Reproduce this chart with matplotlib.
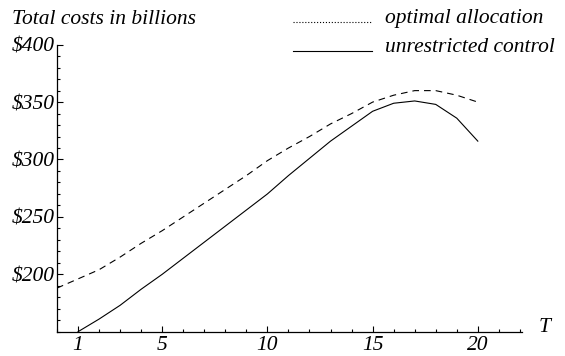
"""Total costs vs T: optimal allocation against unrestricted control."""

import matplotlib
matplotlib.use('Agg')

import matplotlib.pyplot as plt
from matplotlib.lines import Line2D
from matplotlib.ticker import FixedLocator, MultipleLocator

# data (costs in billions of dollars)
t_opt = list(range(0, 21))
cost_opt = [188, 196, 204, 215, 227, 238, 250, 262, 274, 286, 299,
            310, 320, 331, 340, 350, 356, 360, 360, 356, 350]

t_unr = list(range(1, 21))
cost_unr = [150, 161, 173, 187, 200, 214, 228, 242, 256, 270,
            286, 301, 316, 329, 342, 349, 351, 348, 336, 316]

x_ticks = [1, 5, 10, 15, 20]
y_ticks = [200, 250, 300, 350, 400]
y_labels = ['$%d' % v for v in y_ticks]

legend_labels = ['optimal allocation', 'unrestricted control']
title = 'Total costs in billions'

FONT = 'Liberation Serif'
FS = 15.5
W, H = 565, 356

fig = plt.figure(figsize=(W / 100, H / 100), dpi=100)
ax = fig.add_axes([57 / W, (H - 331.7) / H, 465 / W, (331.7 - 44.7) / H])

lw = 0.8
ax.plot(t_opt, cost_opt, color='black', lw=lw, dashes=(6, 4.5))
ax.plot(t_unr, cost_unr, color='black', lw=lw)

ax.set_xlim(0, 22.1)
ax.set_ylim(150, 400)

for side in ('top', 'right'):
    ax.spines[side].set_visible(False)
for side in ('left', 'bottom'):
    ax.spines[side].set_linewidth(0.9)

ax.xaxis.set_major_locator(FixedLocator(x_ticks))
ax.xaxis.set_minor_locator(MultipleLocator(1))
ax.yaxis.set_major_locator(FixedLocator(y_ticks))
ax.yaxis.set_minor_locator(MultipleLocator(10))
ax.set_yticklabels(y_labels)

ax.tick_params(which='both', direction='in', width=0.8, colors='black')
ax.tick_params(which='major', length=4)
ax.tick_params(which='minor', length=2.2)
ax.tick_params(axis='x', which='major', pad=3)
ax.tick_params(axis='y', which='major', pad=1.5)

for lab in ax.get_xticklabels() + ax.get_yticklabels():
    lab.set_fontfamily(FONT)
    lab.set_fontstyle('italic')
    lab.set_fontsize(FS)

# axis captions
fig.text(12 / W, (H - 20) / H, title, family=FONT, style='italic',
         fontsize=FS, va='center', ha='left')
fig.text(545 / W, (H - 327) / H, 'T', family=FONT, style='italic',
         fontsize=FS, va='center', ha='center')

# legend, drawn by hand in figure coordinates
leg_styles = [':', '-']
leg_y = [22, 51]
for style, y, label in zip(leg_styles, leg_y, legend_labels):
    fig.add_artist(Line2D([293 / W, 372 / W], [(H - y) / H] * 2,
                          transform=fig.transFigure, color='black',
                          lw=lw, linestyle=style))
    fig.text(385 / W, (H - y + 4) / H, label, family=FONT, style='italic',
             fontsize=FS, va='center', ha='left')

fig.savefig('out.png', dpi=100)
